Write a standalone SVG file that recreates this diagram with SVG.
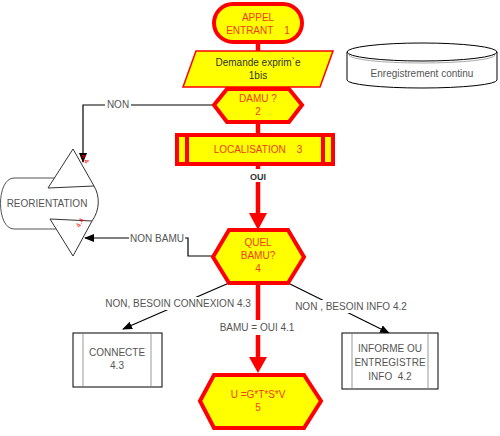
<svg xmlns="http://www.w3.org/2000/svg" width="500" height="436" viewBox="0 0 500 436">
<defs>
<style>
.rn{fill:#ffff00;stroke:#ff0000;stroke-width:4;stroke-linejoin:miter}
.rt{font-family:"Liberation Sans",Arial,sans-serif;font-size:10px;fill:#f03c14;text-anchor:middle}
.gt{font-family:"Liberation Sans",Arial,sans-serif;font-size:10px;fill:#555;text-anchor:middle}
.bt{font-family:"Liberation Sans",Arial,sans-serif;font-size:10px;fill:#333;text-anchor:middle}
.thin{fill:#fff;stroke:#000;stroke-width:1}
.inner{stroke:#999;stroke-width:1}
.bl{fill:none;stroke:#000;stroke-width:1.2}
.rl{fill:none;stroke:#ff0000;stroke-width:4.5}
.lbl{fill:#fff}
</style>
<marker id="ab" markerWidth="10" markerHeight="8" refX="9" refY="4" orient="auto" markerUnits="userSpaceOnUse">
<path d="M0,0 L10,4 L0,8 z" fill="#000"/>
</marker>
</defs>
<rect width="500" height="436" fill="#fff"/>

<g id="connectors">
<line class="rl" x1="258" y1="42" x2="258" y2="51"/>
<line class="rl" x1="258" y1="87" x2="258" y2="89"/>
<line class="rl" x1="258" y1="122" x2="258" y2="135"/>
<line class="rl" x1="258" y1="164" x2="258" y2="214"/>
<polygon points="249,213 267,213 258,230" fill="#ff0000"/>
<line class="rl" x1="258" y1="283" x2="258" y2="358"/>
<polygon points="249,357 267,357 258,373" fill="#ff0000"/>
<polyline class="bl" points="214,105 83,105 83,162" marker-end="url(#ab)"/>
<polyline class="bl" points="213,256 188,256 188,238 85,238" marker-end="url(#ab)"/>
<line class="bl" x1="229" y1="283" x2="123" y2="329" marker-end="url(#ab)"/>
<line class="bl" x1="288" y1="283" x2="389" y2="333" marker-end="url(#ab)"/>
<rect class="lbl" x="247" y="169" width="22" height="13"/>
<text x="258" y="180" class="bt" style="font-weight:bold;font-size:9px">OUI</text>
<rect class="lbl" x="105" y="98" width="26" height="13"/>
<text x="118" y="108" class="gt">NON</text>
<rect class="lbl" x="129" y="231" width="56" height="13"/>
<text x="157" y="242" class="gt">NON BAMU</text>
<rect class="lbl" x="106" y="297" width="144" height="13"/>
<text x="178" y="307" class="gt">NON,  BESOIN CONNEXION 4.3</text>
<rect class="lbl" x="282" y="300" width="138" height="13"/>
<text x="351" y="310" class="gt">NON , BESOIN INFO 4.2</text>
<rect class="lbl" x="220" y="320" width="75" height="15"/>
<text x="257" y="331" class="gt">BAMU = OUI 4.1</text>
</g>

<g id="n1">
<rect class="rn" x="214" y="4" width="88" height="38" rx="19"/>
<text x="258" y="21" class="rt">APPEL</text>
<text x="258" y="34" class="rt" xml:space="preserve">ENTRANT    1</text>
</g>

<g id="n1bis">
<polygon points="196,51 333,51 320,87 183,87" fill="#ffff00" stroke="#ff0000" stroke-width="1.5"/>
<text x="258" y="66" class="bt">Demande exprim`e</text>
<text x="258" y="79" class="bt">1bis</text>
</g>

<g id="n2">
<polygon class="rn" points="214,105 227,89 289,89 302,105 289,122 227,122"/>
<text x="258" y="102" class="rt">DAMU ?</text>
<text x="258" y="115" class="rt">2</text>
</g>

<g id="n3">
<rect class="rn" x="177" y="135" width="156" height="29"/>
<line x1="187" y1="135" x2="187" y2="164" stroke="#ff0000" stroke-width="4"/>
<line x1="323" y1="135" x2="323" y2="164" stroke="#ff0000" stroke-width="4"/>
<text x="258" y="153" class="rt" xml:space="preserve">LOCALISATION    3</text>
</g>

<g id="nstore">
<path d="M347,52 L347,80 A75,8 0 0 0 497,80 L497,52" fill="#fff" stroke="#000" stroke-width="1"/>
<ellipse cx="422" cy="52" rx="75" ry="9" fill="#fff" stroke="#000" stroke-width="1"/>
<path d="M349,55 A73,8 0 0 0 495,55" fill="none" stroke="#aaa" stroke-width="1"/>
<text x="422" y="77" class="gt">Enregistrement continu</text>
</g>

<g id="nreo">
<path d="M55,178 L14,178 C-4,178 -4,229 14,229 L57,229" fill="#fff" stroke="#555" stroke-width="1"/>
<path d="M73,149 L48,188 L94,186 C100,196 100,210 92,221 L50,219 L73,256 L92,221" fill="#fff" stroke="#333" stroke-width="1"/>
<path d="M73,149 L94,186" fill="none" stroke="#333" stroke-width="1"/>
<text x="47" y="207" class="gt">REORIENTATION</text>
<text x="0" y="0" transform="translate(83,160) rotate(60)" style="font-family:'Liberation Sans',Arial,sans-serif;font-size:7px;fill:#ff0000;text-anchor:middle">4.4</text>
<text x="0" y="0" transform="translate(82,224) rotate(-60)" style="font-family:'Liberation Sans',Arial,sans-serif;font-size:7px;fill:#ff0000;text-anchor:middle">4.4</text>
</g>

<g id="n4">
<polygon class="rn" points="213,257 229,230 288,230 304,257 288,283 229,283"/>
<text x="258" y="246" class="rt">QUEL</text>
<text x="258" y="259" class="rt">BAMU?</text>
<text x="258" y="272" class="rt">4</text>
</g>

<g id="n43">
<rect class="thin" x="73" y="333" width="89" height="54"/>
<line class="inner" x1="83" y1="334" x2="83" y2="386"/>
<line class="inner" x1="151" y1="334" x2="151" y2="386"/>
<text x="117" y="356" class="gt">CONNECTE</text>
<text x="117" y="369" class="gt">4.3</text>
</g>

<g id="n42">
<rect class="thin" x="342" y="333" width="96" height="56"/>
<line class="inner" x1="352" y1="334" x2="352" y2="388"/>
<line class="inner" x1="428" y1="334" x2="428" y2="388"/>
<text x="390" y="352" class="gt">INFORME OU</text>
<text x="390" y="366" class="gt">ENTREGISTRE</text>
<text x="390" y="380" class="gt" xml:space="preserve">INFO  4.2</text>
</g>

<g id="n5">
<polygon class="rn" points="200,401 214,375 304,375 321,401 304,428 214,428"/>
<text x="258" y="398" class="rt">U =G*T*S*V</text>
<text x="258" y="411" class="rt">5</text>
</g>
</svg>
